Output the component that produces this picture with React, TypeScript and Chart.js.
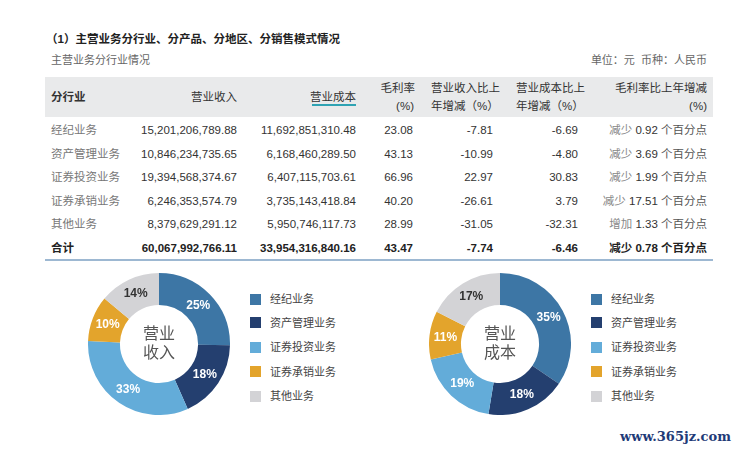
import React, { useEffect, useRef } from "react";
import { Chart, registerables } from "chart.js";
Chart.register(...registerables);

const segments = ["经纪业务", "资产管理业务", "证券投资业务", "证券承销业务", "其他业务"];
const revenue = [15201206789.88, 10846234735.65, 19394568374.67, 6246353574.79, 8379629291.12];
const cost = [11692851310.48, 6168460289.5, 6407115703.61, 3735143418.84, 5950746117.73];
const revenueShareLabels = ["25%", "18%", "33%", "10%", "14%"];
const costShareLabels = ["35%", "18%", "19%", "11%", "17%"];
const grossMargin = ["23.08", "43.13", "66.96", "40.20", "28.99"];
const revenueChange = ["-7.81", "-10.99", "22.97", "-26.61", "-31.05"];
const costChange = ["-6.69", "-4.80", "30.83", "3.79", "-32.31"];
const marginDir = ["减少", "减少", "减少", "减少", "增加"];
const marginPts = ["0.92", "3.69", "1.99", "17.51", "1.33"];
const totalRevenue = 60067992766.11;
const totalCost = 33954316840.16;
const totalMargin = "43.47";
const totalRevenueChange = "-7.74";
const totalCostChange = "-6.46";
const totalMarginDir = "减少";
const totalMarginPts = "0.78";
const sliceColors = ["#3d76a5", "#243f6f", "#63acd9", "#e3a42c", "#d3d3d6"];
const sliceTextColors = ["#ffffff", "#ffffff", "#ffffff", "#ffffff", "#333333"];

const FONT = '"Liberation Sans", Arial, "Noto Sans CJK SC", sans-serif';
const fmt = (v: number) =>
  v.toLocaleString("en-US", { minimumFractionDigits: 2, maximumFractionDigits: 2 });

function T(props: {
  x: number;
  y: number;
  align?: "left" | "right" | "center";
  size?: number;
  color?: string;
  bold?: boolean;
  children: React.ReactNode;
}) {
  const { x, y, align = "left", size = 11.5, color = "#333", bold, children } = props;
  const lh = 16;
  const style: React.CSSProperties = {
    position: "absolute",
    top: y - lh / 2,
    lineHeight: lh + "px",
    fontSize: size,
    color,
    fontWeight: bold ? 700 : 400,
    whiteSpace: "nowrap",
  };
  if (align === "left") style.left = x;
  else if (align === "right") style.right = 742 - x;
  else {
    style.left = x - 100;
    style.width = 200;
    style.textAlign = "center";
  }
  return <div style={style}>{children}</div>;
}

function Donut(props: { values: number[]; labels: string[]; center: string[]; cx: number; cy: number; r: number }) {
  const ref = useRef<HTMLCanvasElement>(null);
  const { values, labels, center, cx, cy, r } = props;
  useEffect(() => {
    if (!ref.current) return;
    const labelPlugin = {
      id: "sliceLabels",
      afterDatasetsDraw(chart: any) {
        const ctx = chart.ctx;
        const meta = chart.getDatasetMeta(0);
        ctx.save();
        ctx.textAlign = "center";
        ctx.textBaseline = "middle";
        ctx.font = `bold 12px ${FONT}`;
        meta.data.forEach((arc: any, i: number) => {
          const p = arc.tooltipPosition();
          ctx.fillStyle = sliceTextColors[i];
          ctx.fillText(labels[i], p.x, p.y);
        });
        const c = meta.data[0];
        ctx.font = `16px ${FONT}`;
        ctx.fillStyle = "#555";
        ctx.fillText(center[0], c.x, c.y - 9);
        ctx.fillText(center[1], c.x, c.y + 10);
        ctx.restore();
      },
    };
    const chart = new Chart(ref.current, {
      type: "doughnut",
      data: {
        labels: segments,
        datasets: [{ data: values, backgroundColor: sliceColors, borderWidth: 0 }],
      },
      options: {
        animation: false,
        responsive: false,
        cutout: "55%",
        layout: { padding: 0 },
        plugins: { legend: { display: false }, tooltip: { enabled: false } },
      },
      plugins: [labelPlugin],
    });
    return () => chart.destroy();
  }, []);
  return (
    <canvas
      ref={ref}
      width={r * 2}
      height={r * 2}
      style={{ position: "absolute", left: cx - r, top: cy - r, width: r * 2, height: r * 2 }}
    />
  );
}

function Legend(props: { x: number; textX: number }) {
  const rows = [299, 322.5, 347, 371.5, 396];
  return (
    <>
      {segments.map((s, i) => (
        <React.Fragment key={s}>
          <div
            style={{
              position: "absolute",
              left: props.x,
              top: rows[i] - 5.5,
              width: 11,
              height: 11,
              background: sliceColors[i],
            }}
          />
          <T x={props.textX} y={rows[i]} size={11} color="#444">
            {s}
          </T>
        </React.Fragment>
      ))}
    </>
  );
}

export default function App() {
  const rowY = [130, 153.5, 177, 200.5, 224, 247.5];
  const c1 = 237, c2 = 356, c3 = 413, c4 = 493, c5 = 578, c6 = 707;
  return (
    <div
      style={{
        position: "absolute",
        left: 0,
        top: 0,
        width: 742,
        height: 451,
        background: "#fff",
        fontFamily: FONT,
        overflow: "hidden",
      }}
    >
      <T x={46} y={39} size={11.5} color="#222" bold>
        （1）主营业务分行业、分产品、分地区、分销售模式情况
      </T>
      <T x={51} y={59.5} size={11} color="#666">
        主营业务分行业情况
      </T>
      <T x={c6} y={59.5} size={11} color="#666" align="right">
        单位：元&nbsp;&nbsp;币种：人民币
      </T>

      <div style={{ position: "absolute", left: 45, top: 77, width: 668, height: 40, background: "#e9eaeb" }} />
      <T x={51} y={97} bold color="#333">分行业</T>
      <T x={c1} y={97} align="right" color="#333">营业收入</T>
      <T x={c2} y={97} align="right" color="#333">营业成本</T>
      <div style={{ position: "absolute", left: 312, top: 104, width: 44, height: 1.5, background: "#2fa3b3" }} />
      <T x={415} y={88} align="right">毛利率</T>
      <T x={414} y={106} align="right">(%)</T>
      <T x={431} y={88}>营业收入比上</T>
      <T x={431} y={106}>年增减（%）</T>
      <T x={516} y={88}>营业成本比上</T>
      <T x={516} y={106}>年增减（%）</T>
      <T x={c6} y={88} align="right">毛利率比上年增减</T>
      <T x={c6} y={106} align="right">(%)</T>

      {segments.map((s, i) => (
        <React.Fragment key={s}>
          <T x={51} y={rowY[i]} color="#777">{s}</T>
          <T x={c1} y={rowY[i]} align="right">{fmt(revenue[i])}</T>
          <T x={c2} y={rowY[i]} align="right">{fmt(cost[i])}</T>
          <T x={c3} y={rowY[i]} align="right">{grossMargin[i]}</T>
          <T x={c4} y={rowY[i]} align="right">{revenueChange[i]}</T>
          <T x={c5} y={rowY[i]} align="right">{costChange[i]}</T>
          <T x={c6} y={rowY[i]} align="right">
            <span style={{ color: "#888" }}>{marginDir[i]}</span> {marginPts[i]} <span style={{ color: "#555" }}>个百分点</span>
          </T>
        </React.Fragment>
      ))}
      <T x={51} y={rowY[5]} bold color="#222">合计</T>
      <T x={c1} y={rowY[5]} align="right" bold color="#222">{fmt(totalRevenue)}</T>
      <T x={c2} y={rowY[5]} align="right" bold color="#222">{fmt(totalCost)}</T>
      <T x={c3} y={rowY[5]} align="right" bold color="#222">{totalMargin}</T>
      <T x={c4} y={rowY[5]} align="right" bold color="#222">{totalRevenueChange}</T>
      <T x={c5} y={rowY[5]} align="right" bold color="#222">{totalCostChange}</T>
      <T x={c6} y={rowY[5]} align="right" bold color="#222">
        {totalMarginDir} {totalMarginPts} 个百分点
      </T>
      <div style={{ position: "absolute", left: 45, top: 259, width: 668, height: 2, background: "#9db8d2" }} />

      <Donut values={revenue} labels={revenueShareLabels} center={["营业", "收入"]} cx={159} cy={344} r={71} />
      <Legend x={250} textX={270} />
      <Donut values={cost} labels={costShareLabels} center={["营业", "成本"]} cx={500} cy={344} r={71} />
      <Legend x={591} textX={611} />

      <div
        style={{
          position: "absolute",
          left: 620,
          top: 428,
          fontFamily: '"DejaVu Serif", serif',
          fontWeight: 700,
          fontSize: 13,
          color: "#1f3b78",
          lineHeight: "18px",
          whiteSpace: "nowrap",
        }}
      >
        www.365jz.com
      </div>
    </div>
  );
}
